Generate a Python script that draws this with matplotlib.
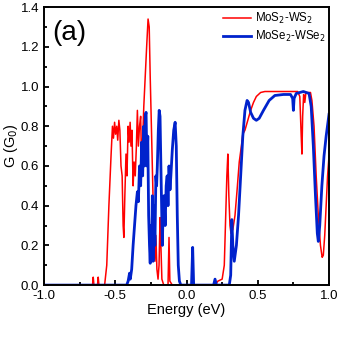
import matplotlib
matplotlib.use("Agg")
import matplotlib.pyplot as plt
from matplotlib.ticker import MultipleLocator

plt.rcParams['font.family'] = ['Liberation Sans', 'DejaVu Sans']

red_x = [-1.0, -0.66, -0.655, -0.65, -0.625, -0.62, -0.615, -0.575, -0.56, -0.545, -0.53, -0.52,
         -0.513, -0.505, -0.498, -0.49, -0.483, -0.475, -0.468, -0.46, -0.452, -0.445, -0.44,
         -0.433, -0.425, -0.418, -0.41, -0.403, -0.396, -0.39, -0.383, -0.375, -0.368, -0.36,
         -0.352, -0.345, -0.338, -0.33, -0.322, -0.315, -0.307, -0.3, -0.29, -0.28, -0.27,
         -0.262, -0.255, -0.245, -0.237, -0.23, -0.222, -0.215, -0.208, -0.2, -0.193, -0.186,
         -0.18, -0.173, -0.16, -0.13, -0.123, -0.117, -0.1, 0.2, 0.22, 0.25, 0.265, 0.275,
         0.283, 0.29, 0.297, 0.305, 0.312, 0.325, 0.34, 0.355, 0.37, 0.385, 0.395, 0.41, 0.43,
         0.45, 0.47, 0.49, 0.52, 0.55, 0.6, 0.7, 0.78, 0.795, 0.805, 0.81, 0.815, 0.822, 0.83,
         0.838, 0.87, 0.88, 0.895, 0.91, 0.925, 0.94, 0.952, 0.96, 0.97, 0.98, 0.99, 1.0]
red_y = [0, 0, 0.04, 0, 0, 0.04, 0, 0, 0.1, 0.4, 0.65, 0.8,
         0.74, 0.82, 0.76, 0.8, 0.73, 0.83, 0.78, 0.6, 0.55, 0.3, 0.24,
         0.45, 0.66, 0.55, 0.8, 0.72, 0.82, 0.7, 0.78, 0.5, 0.62, 0.55,
         0.7, 0.88, 0.7, 0.8, 0.85, 0.6, 0.75, 0.9, 1.05, 1.2, 1.34,
         1.3, 1.05, 0.75, 0.5, 0.3, 0.12, 0.25, 0.08, 0.03, 0.1, 0.34,
         0.2, 0.03, 0.0, 0.0, 0.24, 0.02, 0, 0, 0.02, 0.03, 0.1, 0.35,
         0.55, 0.66, 0.45, 0.3, 0.26, 0.28, 0.35, 0.48, 0.62, 0.7, 0.76, 0.78, 0.83,
         0.88, 0.92, 0.95, 0.97, 0.975, 0.975, 0.975, 0.975, 0.95, 0.75, 0.66, 0.85, 0.96, 0.92,
         0.97, 0.97, 0.93, 0.8, 0.55, 0.35, 0.2, 0.14, 0.15, 0.25, 0.4, 0.55, 0.65]

blue_x = [-1.0, -0.42, -0.41, -0.4, -0.395, -0.385, -0.375, -0.365, -0.355, -0.345, -0.338,
          -0.33, -0.322, -0.315, -0.308, -0.3, -0.295, -0.29, -0.284, -0.278, -0.272, -0.266,
          -0.26, -0.255, -0.25, -0.245, -0.24, -0.235, -0.228, -0.222, -0.215, -0.21, -0.205,
          -0.198, -0.192, -0.186, -0.18, -0.175, -0.17, -0.165, -0.158, -0.15, -0.143, -0.136,
          -0.13, -0.123, -0.116, -0.11, -0.1, -0.09, -0.08, -0.072, -0.065, -0.058, -0.05,
          -0.04, 0.035, 0.043, 0.05, 0.19, 0.2, 0.21, 0.3, 0.31, 0.318, 0.325, 0.335, 0.35,
          0.365, 0.38, 0.395, 0.41, 0.425, 0.435, 0.45, 0.47, 0.49, 0.51, 0.54, 0.58, 0.62,
          0.68, 0.73, 0.745, 0.75, 0.755, 0.77, 0.82, 0.86, 0.875, 0.89, 0.905, 0.918, 0.925,
          0.935, 0.95, 0.965, 0.98, 1.0]
blue_y = [0, 0, 0.02, 0.06, 0.03, 0.08, 0.2, 0.3, 0.4, 0.47, 0.42,
          0.6, 0.5, 0.72, 0.55, 0.8, 0.6, 0.85, 0.87, 0.6, 0.75, 0.35,
          0.2, 0.11, 0.3, 0.15, 0.45, 0.12, 0.4, 0.2, 0.55, 0.5, 0.6,
          0.78, 0.88, 0.85, 0.6, 0.4, 0.2, 0.35, 0.45, 0.3, 0.5, 0.55,
          0.4, 0.6, 0.48, 0.55, 0.68, 0.78, 0.82, 0.7, 0.35, 0.1, 0.02,
          0, 0, 0.19, 0.0, 0, 0.03, 0, 0, 0.05, 0.33, 0.2, 0.12, 0.2,
          0.35, 0.55, 0.75, 0.88, 0.93, 0.92, 0.87, 0.84, 0.83, 0.84, 0.88, 0.93, 0.955,
          0.96, 0.96, 0.94, 0.88, 0.94, 0.965, 0.975, 0.965, 0.9, 0.7, 0.45, 0.26, 0.22,
          0.3, 0.5, 0.65, 0.75, 0.86]

fig = plt.figure(figsize=(3.39, 3.39), dpi=100)
ax = fig.add_axes([0.13, 0.159, 0.8405, 0.82])

ax.plot(red_x, red_y, color='#ff0000', lw=1.1, label='MoS$_2$-WS$_2$')
ax.plot(blue_x, blue_y, color='#0022cc', lw=2.0, label='MoSe$_2$-WSe$_2$')

ax.set_xlim(-1.0, 1.0)
ax.set_ylim(0.0, 1.4)
ax.xaxis.set_major_locator(MultipleLocator(0.5))
ax.xaxis.set_minor_locator(MultipleLocator(0.25))
ax.yaxis.set_major_locator(MultipleLocator(0.2))
ax.yaxis.set_minor_locator(MultipleLocator(0.1))
ax.xaxis.set_major_formatter(plt.FuncFormatter(lambda v, p: f"{v:.1f}"))
ax.yaxis.set_major_formatter(plt.FuncFormatter(lambda v, p: f"{v:.1f}"))
ax.tick_params(which='both', direction='in', top=False, right=False, width=1.3, labelsize=9.5)
ax.tick_params(which='major', length=3.5, pad=3.5)
ax.tick_params(which='minor', length=2.5)
for s in ax.spines.values():
    s.set_linewidth(1.4)

ax.set_xlabel('Energy (eV)', fontsize=10.5, labelpad=1)
ax.set_ylabel('G (G$_0$)', fontsize=10.5)
ax.yaxis.set_label_coords(-0.083, 0.5)

ax.text(0.03, 0.906, '(a)', transform=ax.transAxes, fontsize=20, va='center', ha='left')

leg = ax.legend(loc='upper right', frameon=False, fontsize=8.3, handlelength=2.4,
                handletextpad=0.35, borderaxespad=0.0, borderpad=0.3, labelspacing=0.3)

fig.savefig('out.png', dpi=100)
